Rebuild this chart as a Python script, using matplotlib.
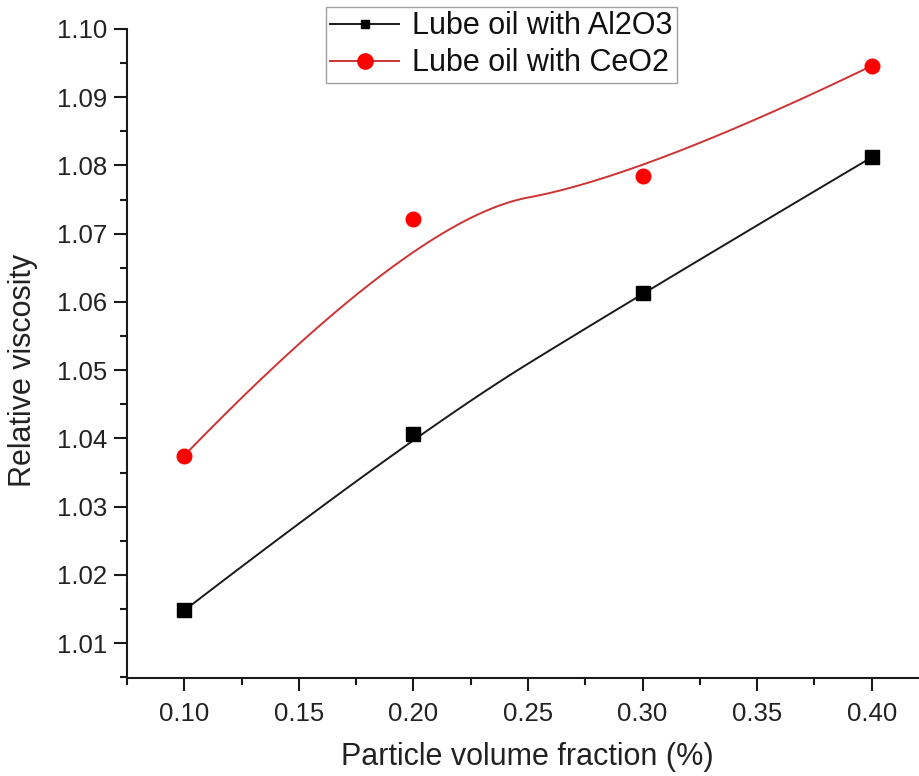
import numpy as np
import matplotlib
matplotlib.use("Agg")
import matplotlib.pyplot as plt
from matplotlib.lines import Line2D
from matplotlib.ticker import MultipleLocator, FormatStrFormatter

plt.rcParams['font.family'] = ['Liberation Sans', 'DejaVu Sans']

# Measured data
volume_fraction = [0.10, 0.20, 0.30, 0.40]
visc_al2o3 = [1.0148, 1.0406, 1.0613, 1.0812]
visc_ceo2 = [1.0375, 1.0722, 1.0784, 1.0946]
series_labels = ["Lube oil with Al2O3", "Lube oil with CeO2"]


def quad_bspline(x, y, n=60):
    """Clamped uniform quadratic B-spline using the data points as control points."""
    P = np.column_stack([x, y]).astype(float)
    m = len(P)
    out = []
    for k in range(m - 2):
        a = P[0] if k == 0 else (P[k] + P[k + 1]) / 2
        b = P[k + 1]
        c = P[-1] if k == m - 3 else (P[k + 1] + P[k + 2]) / 2
        t = np.linspace(0, 1, n)[:, None]
        seg = (1 - t) ** 2 * a + 2 * t * (1 - t) * b + t ** 2 * c
        out.append(seg if k == 0 else seg[1:])
    pts = np.vstack(out)
    return pts[:, 0], pts[:, 1]


fig = plt.figure(figsize=(9.2, 7.76), dpi=100)
ax = fig.add_axes([127 / 920, 98 / 776, 802 / 920, 649 / 776])

black_line = "#1a1a1a"
red_line = "#cc3333"
red_mark = "#ff0000"

bx, by = quad_bspline(volume_fraction, visc_al2o3)
ax.plot(bx, by, color=black_line, lw=1.4, zorder=2)
ax.plot(volume_fraction, visc_al2o3, ls="none", marker="s", ms=9.4,
        mfc="black", mec="black", zorder=3)

rx, ry = quad_bspline(volume_fraction, visc_ceo2)
ax.plot(rx, ry, color=red_line, lw=1.4, zorder=2)
ax.plot(volume_fraction, visc_ceo2, ls="none", marker="o", ms=10.5,
        mfc=red_mark, mec=red_mark, zorder=3)

ax.set_xlim(0.075, 0.425)
ax.set_ylim(1.0049, 1.10)

ax.xaxis.set_major_locator(MultipleLocator(0.05))
ax.xaxis.set_minor_locator(MultipleLocator(0.025))
ax.yaxis.set_major_locator(MultipleLocator(0.01))
ax.yaxis.set_minor_locator(MultipleLocator(0.005))
ax.xaxis.set_major_formatter(FormatStrFormatter("%.2f"))
ax.yaxis.set_major_formatter(FormatStrFormatter("%.2f"))
ax.set_xticks([0.10, 0.15, 0.20, 0.25, 0.30, 0.35, 0.40])
ax.set_yticks(np.round(np.arange(1.01, 1.1001, 0.01), 2))

for side in ("top", "right"):
    ax.spines[side].set_visible(False)
for side in ("left", "bottom"):
    ax.spines[side].set_linewidth(1.5)
    ax.spines[side].set_color("#1a1a1a")

ax.tick_params(which="major", direction="out", length=9.4, width=1.5,
               labelsize=18.5, pad=5, colors="#1a1a1a")
ax.tick_params(which="minor", direction="out", length=5, width=1.5,
               colors="#1a1a1a")
ax.tick_params(axis="x", which="major", pad=8)
for lab in ax.get_xticklabels() + ax.get_yticklabels():
    lab.set_color("#222222")

ax.set_xlabel("Particle volume fraction (%)", fontsize=22, color="#222222")
ax.set_ylabel("Relative viscosity", fontsize=22, color="#222222")
ax.xaxis.set_label_coords((527 - 127) / 802, -(757 - 678) / 649)
ax.yaxis.set_label_coords(-(127 - 23) / 802, (678 - 370) / 649)
ax.xaxis.label.set_va("center")
ax.yaxis.label.set_va("center")

handles = [
    Line2D([], [], color=black_line, lw=1.4, marker="s", ms=5.5,
           mfc="black", mec="black"),
    Line2D([], [], color=red_line, lw=1.4, marker="o", ms=11,
           mfc=red_mark, mec=red_mark),
]
leg = fig.legend(handles, series_labels, loc="upper left",
                 bbox_to_anchor=(326 / 920, 1 - 7 / 776),
                 fontsize=22, frameon=True, fancybox=False,
                 borderpad=0.14, borderaxespad=0, handlelength=2.25,
                 handletextpad=0.42, labelspacing=0.23)
leg.get_frame().set_edgecolor("#888888")
leg.get_frame().set_linewidth(1.0)
for t in leg.get_texts():
    t.set_color("#111111")

fig.savefig("out.png", dpi=100)
